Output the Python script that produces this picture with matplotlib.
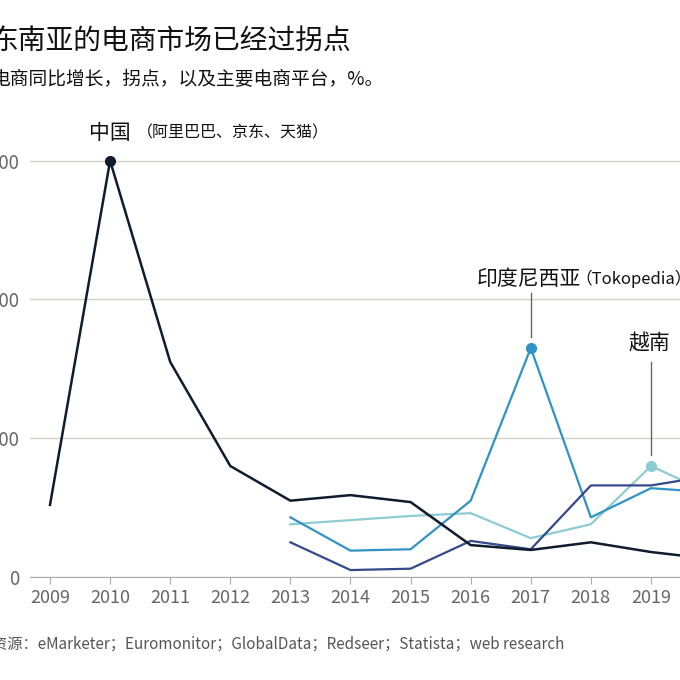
import matplotlib
matplotlib.use("Agg")
import matplotlib.pyplot as plt

plt.rcParams['font.family'] = ['Noto Sans CJK SC', 'DejaVu Sans']

years = [2009, 2010, 2011, 2012, 2013, 2014, 2015, 2016, 2017, 2018, 2019, 2020]
years_sea = years[4:]
china = [52, 300, 155, 80, 55, 59, 54, 23, 19.5, 25, 18, 13]
indonesia = [43, 19, 20, 55, 165, 43, 64, 61]
vietnam = [38, 41, 44, 46, 28, 38, 80, 60]
other = [25, 5, 6, 26, 20, 66, 66, 73]
yticks = [0, 100, 200, 300]
xticks = years[:11]

W = 680
fig = plt.figure(figsize=(6.8, 6.8), dpi=100)
# axes deliberately wider than the figure: the reference is a crop
ax = fig.add_axes([30 / W, 103 / W, 770 / W, 444 / W])
ax.set_xlim(2008.667, 2021.48)
ax.set_ylim(0, 320)

ax.plot(years, china, color="#0f1c2e", lw=1.8, zorder=5)
ax.plot(years_sea, indonesia, color="#2f93c4", lw=1.6, zorder=4)
ax.plot(years_sea, vietnam, color="#8dccd2", lw=1.6, zorder=3)
ax.plot(years_sea, other, color="#34498a", lw=1.6, zorder=4)

ax.plot(2010, china[1], "o", color="#0f1c2e", ms=7, zorder=6)
ax.plot(2017, indonesia[4], "o", color="#2f93c4", ms=7, zorder=6)
ax.plot(2019, vietnam[6], "o", color="#8dccd2", ms=7, zorder=6)

ax.plot([2017, 2017], [173, 205], color="#666666", lw=1)
ax.plot([2019, 2019], [88, 155], color="#666666", lw=1)

ax.text(2009.65, 320, "中国", fontsize=15, fontweight="medium", color="#111111", va="center")
ax.text(2010.45, 320, "（阿里巴巴、京东、天猫）", fontsize=11.5, fontweight="medium", color="#111111", va="center")
ax.text(2016.1, 215, "印度尼西亚", fontsize=15, fontweight="medium", color="#111111", va="center")
ax.text(2017.75, 215, "（Tokopedia）", fontsize=12, color="#111111", va="center")
ax.text(2018.62, 168, "越南", fontsize=15, fontweight="medium", color="#111111", va="center")

for s in ["top", "right", "left"]:
    ax.spines[s].set_visible(False)
ax.spines["bottom"].set_color("#aaaaaa")
ax.set_yticks(yticks)
ax.set_yticklabels([str(v) for v in yticks])
ax.set_xticks(xticks)
ax.grid(axis="y", color="#d3d3c8", lw=1)
ax.set_axisbelow(True)
ax.tick_params(axis="y", length=0, labelsize=13.5, labelcolor="#666666", pad=8)
ax.tick_params(axis="x", length=5, color="#aaaaaa", labelsize=13, labelcolor="#666666")

fig.text(-10 / W, 1 - 42 / W, "东南亚的电商市场已经过拐点", fontsize=20, color="#111111", va="center")
fig.text(-8 / W, 1 - 80 / W, "电商同比增长，拐点，以及主要电商平台，%。", fontsize=13.5, fontweight="medium", color="#111111", va="center")
fig.text(-8 / W, 1 - 644 / W, "资源：eMarketer；Euromonitor；GlobalData；Redseer；Statista；web research", fontsize=11, color="#555555", va="center")

fig.savefig("out.png", dpi=100)
